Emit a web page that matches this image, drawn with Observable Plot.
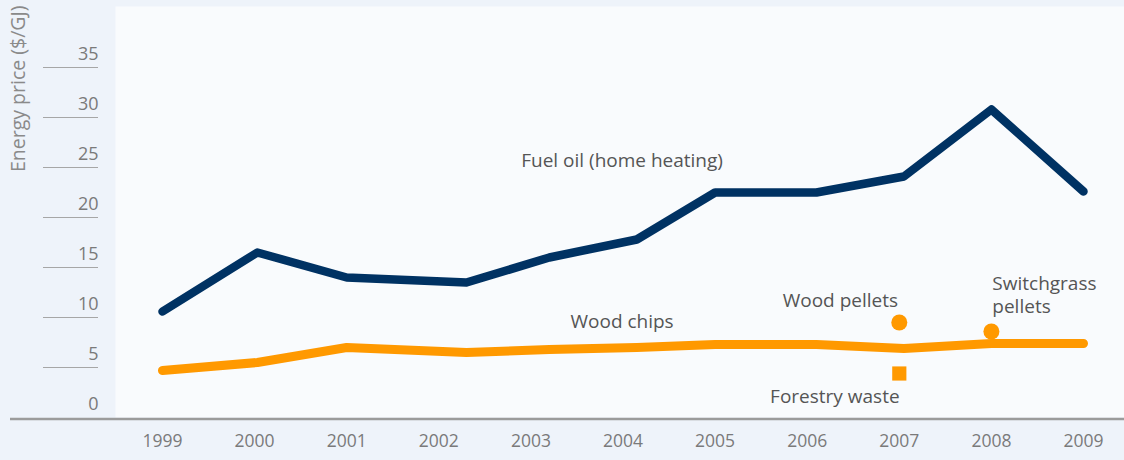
<!DOCTYPE html>
<html>
<head>
<meta charset="utf-8">
<script src="https://cdn.jsdelivr.net/npm/d3@7"></script>
<script src="https://cdn.jsdelivr.net/npm/@observablehq/plot@0.6"></script>
<style>
  html, body { margin: 0; padding: 0; background: #eef3fa; }
  #chart svg { display: block; }
</style>
</head>
<body>
<div id="chart"></div>
<script>
const years = [1999, 2000, 2001, 2002, 2003, 2004, 2005, 2006, 2007, 2008, 2009];
const seriesX = [1999.0, 2000.03, 2001.0, 2002.3, 2003.2, 2004.15, 2005.0, 2006.1, 2007.05, 2008.0, 2009.0];
const fuelOil = [10.6, 16.5, 14.0, 13.5, 16.0, 17.8, 22.5, 22.5, 24.1, 30.8, 22.6];
const woodChips = [4.7, 5.5, 7.0, 6.5, 6.8, 7.0, 7.3, 7.3, 6.9, 7.4, 7.4];
const yTicks = [0, 5, 10, 15, 20, 25, 30, 35];
const pointNames = ["Wood pellets", "Switchgrass pellets", "Forestry waste"];
const pointYears = [2007, 2008, 2007];
const pointValues = [9.5, 8.6, 4.4];
const pointShapes = ["circle", "circle", "square"];
// annotation labels (anchor positions in data units)
const centeredLabels = ["Fuel oil (home heating)", "Wood chips", "Wood pellets", "Forestry waste"];
const centeredX = [2003.99, 2003.99, 2006.36, 2006.3];
const centeredY = [25.7, 9.6, 11.7, 2.1];
const leftLabels = ["Switchgrass\npellets"];
const leftX = [2008.01];
const leftY = [12.35];

const font = "'Open Sans', 'Noto Sans', sans-serif";
const navy = "#003263";
const orange = "#ff9900";

const fuel = seriesX.map((x, i) => ({x, y: fuelOil[i]}));
const chips = seriesX.map((x, i) => ({x, y: woodChips[i]}));
const pts = pointNames.map((n, i) => ({name: n, x: pointYears[i], y: pointValues[i], shape: pointShapes[i]}));
const cLabels = centeredLabels.map((t, i) => ({t, x: centeredX[i], y: centeredY[i]}));
const lLabels = leftLabels.map((t, i) => ({t, x: leftX[i], y: leftY[i]}));

const chart = Plot.plot({
  width: 1124,
  height: 460,
  marginLeft: 115,
  marginRight: 0,
  marginTop: 6,
  marginBottom: 43,
  x: {domain: [1999, 2009], insetLeft: 47, insetRight: 41, axis: null},
  y: {domain: [0, 41.1], axis: null},
  style: {background: "transparent", fontFamily: font},
  marks: [
    Plot.frame({fill: "#f9fbfd", stroke: null}),
    // left tick lines
    Plot.ruleY(yTicks.filter(d => d > 0), {stroke: "#a6a6a6", strokeWidth: 1.2, insetLeft: -72, insetRight: 1026}),
    Plot.text(yTicks, {y: d => d, text: d => String(d), frameAnchor: "left", dx: -17, textAnchor: "end", lineAnchor: "bottom", dy: -8, fontSize: 18, fill: "#7a7a7a", fontFamily: font}),
    // baseline axis
    Plot.ruleY([0], {stroke: "#9b9b9b", strokeWidth: 2.5, insetLeft: -105, dy: 1.5}),
    Plot.text(years, {x: d => d, text: d => String(d), frameAnchor: "bottom", dy: 24, lineAnchor: "middle", fontSize: 17.5, fill: "#7a7a7a", fontFamily: font}),
    Plot.text(["Energy price ($/GJ)"], {frameAnchor: "top-left", rotate: -90, dx: -97, dy: -1, textAnchor: "end", lineAnchor: "middle", fontSize: 19.5, fill: "#8a8a8a", fontFamily: font}),
    // series
    Plot.line(chips, {x: "x", y: "y", stroke: orange, strokeWidth: 9, strokeLinecap: "round", strokeLinejoin: "round"}),
    Plot.line(fuel, {x: "x", y: "y", stroke: navy, strokeWidth: 8.5, strokeLinecap: "round", strokeLinejoin: "round"}),
    Plot.dot(pts, {x: "x", y: "y", symbol: "shape", r: 8, fill: orange, stroke: null}),
    // labels
    Plot.text(cLabels, {x: "x", y: "y", text: "t", textAnchor: "middle", lineAnchor: "middle", fontSize: 19, fill: "#555555", fontFamily: font}),
    Plot.text(lLabels, {x: "x", y: "y", text: "t", textAnchor: "start", lineAnchor: "middle", fontSize: 19, fill: "#555555", fontFamily: font, lineHeight: 1.25})
  ]
});
document.getElementById("chart").appendChild(chart);
</script>
</body>
</html>
